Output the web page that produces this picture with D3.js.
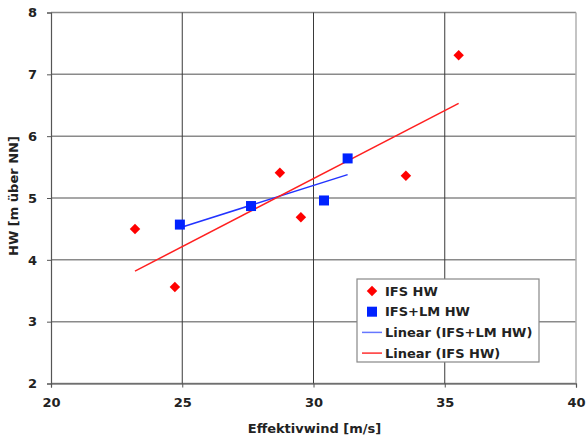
<!DOCTYPE html>
<html>
<head>
<meta charset="utf-8">
<script src="https://cdn.jsdelivr.net/npm/d3@7"></script>
<style>
  body { margin: 0; background: #fff; }
  text { font-family: "DejaVu Sans", Arial, sans-serif; font-weight: bold; }
</style>
</head>
<body>
<svg id="chart" width="586" height="441"></svg>
<script>
let width = 586, height = 441;
let margin = { top: 12.5, right: 10, bottom: 57.5, left: 51 };
let w = width - margin.left - margin.right;
let h = height - margin.top - margin.bottom;

// data
let ifsWind = [23.2, 24.72, 28.72, 29.52, 33.52, 35.53];
let ifsHW = [4.50, 3.56, 5.41, 4.69, 5.36, 7.31];
let lmWind = [24.91, 27.62, 30.40, 31.30];
let lmHW = [4.57, 4.87, 4.96, 5.64];
let xTicks = [20, 25, 30, 35, 40];
let yTicks = [2, 3, 4, 5, 6, 7, 8];

let x = d3.scaleLinear().domain([20, 40]).range([0, w]);
let y = d3.scaleLinear().domain([2, 8]).range([h, 0]);

// least squares line, like the spreadsheet trendline
function fit(xs, ys) {
  let mx = d3.mean(xs), my = d3.mean(ys);
  let sxy = d3.sum(xs, (v, i) => (v - mx) * (ys[i] - my));
  let sxx = d3.sum(xs, v => (v - mx) * (v - mx));
  let b = sxy / sxx, a = my - b * mx;
  let x0 = d3.min(xs), x1 = d3.max(xs);
  return [[x0, a + b * x0], [x1, a + b * x1]];
}

let svg = d3.select("#chart");
let chart = svg.append("g")
  .attr("transform", "translate(" + margin.left + "," + margin.top + ")");

// grid
chart.append("g").selectAll("line").data(yTicks).enter().append("line")
  .attr("x1", 0).attr("x2", w)
  .attr("y1", d => y(d)).attr("y2", d => y(d))
  .style("stroke", "#8a8a8a").style("stroke-width", 1.5);
chart.append("g").selectAll("line").data(xTicks.slice(1, -1)).enter().append("line")
  .attr("x1", d => x(d)).attr("x2", d => x(d))
  .attr("y1", 0).attr("y2", h)
  .style("stroke", "#3a3a3a").style("stroke-width", 1);
chart.append("line")
  .attr("x1", w).attr("x2", w).attr("y1", 0).attr("y2", h)
  .style("stroke", "#b0b0b0").style("stroke-width", 1.5);

// axes
let xAxis = chart.append("g")
  .attr("transform", "translate(0," + h + ")")
  .call(d3.axisBottom(x).tickValues(xTicks).tickSize(4).tickPadding(10));
let yAxis = chart.append("g")
  .call(d3.axisLeft(y).tickValues(yTicks).tickFormat(d3.format("d")).tickSize(4).tickPadding(10));
[xAxis, yAxis].forEach(a => {
  a.select(".domain").style("stroke", "#555").style("stroke-width", 1.2);
  a.selectAll(".tick line").style("stroke", "#555");
  a.selectAll("text").style("font-size", "13px").style("fill", "#222")
    .style("font-family", "'DejaVu Sans', Arial, sans-serif").style("font-weight", "bold");
});

// trendlines
let line = d3.line().x(d => x(d[0])).y(d => y(d[1]));
chart.append("path").datum(fit(lmWind, lmHW)).attr("d", line)
  .style("stroke", "#2233ff").style("stroke-width", 1.5).style("fill", "none");
chart.append("path").datum(fit(ifsWind, ifsHW)).attr("d", line)
  .style("stroke", "#ff2020").style("stroke-width", 1.5).style("fill", "none");

// points
let diamond = d3.symbol().type(d3.symbolDiamond2).size(70);
chart.selectAll(".ifs").data(ifsWind).enter().append("path")
  .attr("class", "ifs")
  .attr("d", diamond)
  .attr("transform", (d, i) => "translate(" + x(d) + "," + y(ifsHW[i]) + ")")
  .style("fill", "#ff0000");
chart.selectAll(".lm").data(lmWind).enter().append("rect")
  .attr("class", "lm")
  .attr("x", d => x(d) - 5).attr("y", (d, i) => y(lmHW[i]) - 5)
  .attr("width", 10).attr("height", 10)
  .style("fill", "#0022ff");

// axis titles
svg.append("text")
  .attr("x", margin.left + w / 2 + 1).attr("y", 433)
  .attr("text-anchor", "middle").style("font-size", "13px").style("fill", "#222")
  .text("Effektivwind [m/s]");
svg.append("text")
  .attr("transform", "translate(18,196) rotate(-90)")
  .attr("text-anchor", "middle").style("font-size", "13px").style("fill", "#222")
  .text("HW [m über NN]");

// legend
let legend = svg.append("g").attr("transform", "translate(357,279)");
legend.append("rect").attr("width", 182).attr("height", 83)
  .style("fill", "#fff").style("stroke", "#888").style("stroke-width", 1.2);
let items = [
  { name: "IFS HW", kind: "diamond", color: "#ff0000" },
  { name: "IFS+LM HW", kind: "square", color: "#0022ff" },
  { name: "Linear (IFS+LM HW)", kind: "line", color: "#6677ff" },
  { name: "Linear (IFS HW)", kind: "line", color: "#ff3030" }
];
let row = legend.selectAll(".item").data(items).enter().append("g")
  .attr("transform", (d, i) => "translate(0," + (12 + i * 20.7) + ")");
row.each(function (d) {
  let g = d3.select(this);
  if (d.kind === "diamond") {
    g.append("path").attr("d", diamond).attr("transform", "translate(15,0)").style("fill", d.color);
  } else if (d.kind === "square") {
    g.append("rect").attr("x", 10).attr("y", -5).attr("width", 10).attr("height", 10).style("fill", d.color);
  } else {
    g.append("line").attr("x1", 5).attr("x2", 25).attr("y1", 0).attr("y2", 0)
      .style("stroke", d.color).style("stroke-width", 1.5);
  }
});
row.append("text").attr("x", 28).attr("y", 4.5)
  .style("font-size", "13px").style("fill", "#222")
  .text(d => d.name);
</script>
</body>
</html>
